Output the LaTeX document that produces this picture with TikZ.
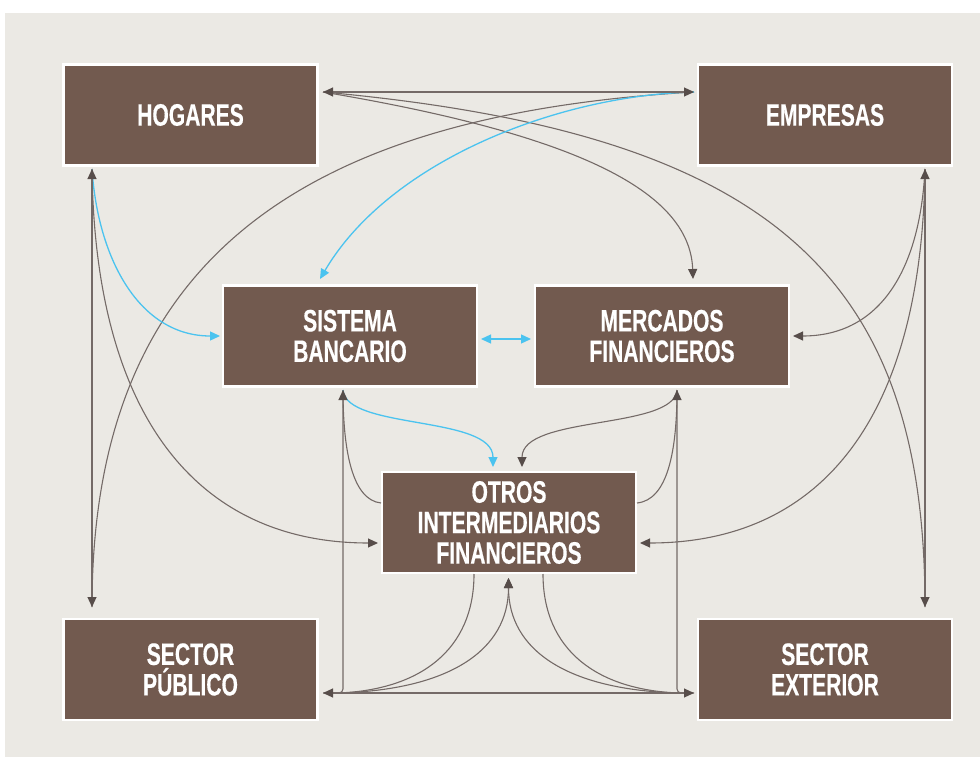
\documentclass[tikz,border=0pt]{standalone}
\usepackage{fontspec}
\newfontfamily\boxfont[FakeStretch=0.68,FakeBold=0.4]{Liberation Sans}
\usetikzlibrary{arrows.meta}
\definecolor{bg}{HTML}{EBE9E4}
\definecolor{boxbrown}{HTML}{725A4F}
\definecolor{lgrey}{HTML}{746A67}
\definecolor{agrey}{HTML}{574D4A}
\definecolor{lblue}{HTML}{4BC3EF}
\begin{document}
\begin{tikzpicture}[x=1pt,y=-1pt,
  box/.style={draw=white, line width=2.2pt, fill=boxbrown, minimum width=254pt, minimum height=101pt, inner sep=0pt, text=white, font=\boxfont\bfseries\fontsize{31}{30.5}\selectfont, align=center},
  gline/.style={draw=lgrey, line width=1.1pt, >={Triangle[length=10pt,width=9pt,color=agrey]}},
  bline/.style={draw=lblue, line width=1.3pt, >={Triangle[length=10pt,width=9pt,color=lblue]}},
]
\useasboundingbox (0,0) rectangle (980,757);
\fill[white] (0,0) rectangle (980,757);
\fill[bg] (5,13) rectangle (980,757);

\node[box] (hog) at (190.5,115) {HOGARES};
\node[box] (emp) at (825,115) {EMPRESAS};
\node[box] (sb) at (350,336) {SISTEMA\\BANCARIO};
\node[box] (mf) at (662,336) {MERCADOS\\FINANCIEROS};
\node[box] (otr) at (509,522.5) {OTROS\\INTERMEDIARIOS\\FINANCIEROS};
\node[box] (sp) at (190.5,669.5) {SECTOR\\PÚBLICO};
\node[box] (se) at (825,669.5) {SECTOR\\EXTERIOR};

\coordinate (h1) at (323,92);
\coordinate (e1) at (694,92);
\coordinate (h2) at (92,169);
\coordinate (sptop) at (92,607);
\coordinate (e2) at (925,169);
\coordinate (setop) at (925,607);
\coordinate (mftop) at (693,279);
\coordinate (sbtop) at (320,279);
\coordinate (sbleft) at (220,336);
\coordinate (otrleft) at (378,543);
\coordinate (mfright) at (793,336);
\coordinate (otrright) at (640,543);
\coordinate (sbright) at (481,339);
\coordinate (mfleft) at (531,339);
\coordinate (sbbot) at (343,390);
\coordinate (mfbot) at (677,390);
\coordinate (otrtopA) at (493,467);
\coordinate (otrtopB) at (522,467);
\coordinate (otrLU) at (381,503);
\coordinate (otrRU) at (637,503);
\coordinate (spright) at (323,693);
\coordinate (seleft) at (694,693);
\coordinate (spP) at (338,693);
\coordinate (seP) at (679,693);
\coordinate (otrbot) at (508.5,578);
\coordinate (otrBL) at (474,574);
\coordinate (otrBR) at (543,574);

% curves
\draw[gline,->] (h1) .. controls (573,134) and (690,190) .. (mftop);
\draw[gline] (h1) .. controls (773,133) and (925,276) .. (setop);
\draw[gline] (e1) .. controls (300,115) and (92,260) .. (sptop);
\draw[bline,->] (e1) .. controls (560,95) and (390,160) .. (sbtop);
\draw[bline,->] (h2) .. controls (98,260) and (140,336) .. (sbleft);
\draw[gline,->] (h2) .. controls (95,420) and (200,543) .. (otrleft);
\draw[gline,->] (e2) .. controls (920,270) and (880,336) .. (mfright);
\draw[gline,->] (e2) .. controls (922,420) and (820,543) .. (otrright);
\draw[bline,<->] (sbright) -- (mfleft);
\draw[bline,->] (sbbot) .. controls (346,430) and (493,415) .. (otrtopA);
\draw[gline] (otrLU) .. controls (352,500) and (343,450) .. (sbbot);
\draw[gline,->] (mfbot) .. controls (674,430) and (522,415) .. (otrtopB);
\draw[gline] (otrRU) .. controls (668,500) and (677,450) .. (mfbot);
\draw[gline] (otrBL) .. controls (474,650) and (420,690) .. (spP);
\draw[gline,->] (spP) .. controls (450,690) and (508.5,650) .. (otrbot);
\draw[gline,->] (seP) .. controls (567,690) and (508.5,650) .. (otrbot);
\draw[gline] (otrBR) .. controls (543,650) and (597,690) .. (seP);
% hub lines
\draw[gline,<->] (h1) -- (e1);
\draw[gline,<->] (h2) -- (sptop);
\draw[gline,<->] (e2) -- (setop);
\draw[gline,<-,rounded corners=4pt] (sbbot) -- (sbbot |- spright) -- (spright);
\draw[gline,<-,rounded corners=4pt] (mfbot) -- (mfbot |- seleft) -- (seleft);
\draw[gline,<->] (spright) -- (seleft);
\end{tikzpicture}
\end{document}
